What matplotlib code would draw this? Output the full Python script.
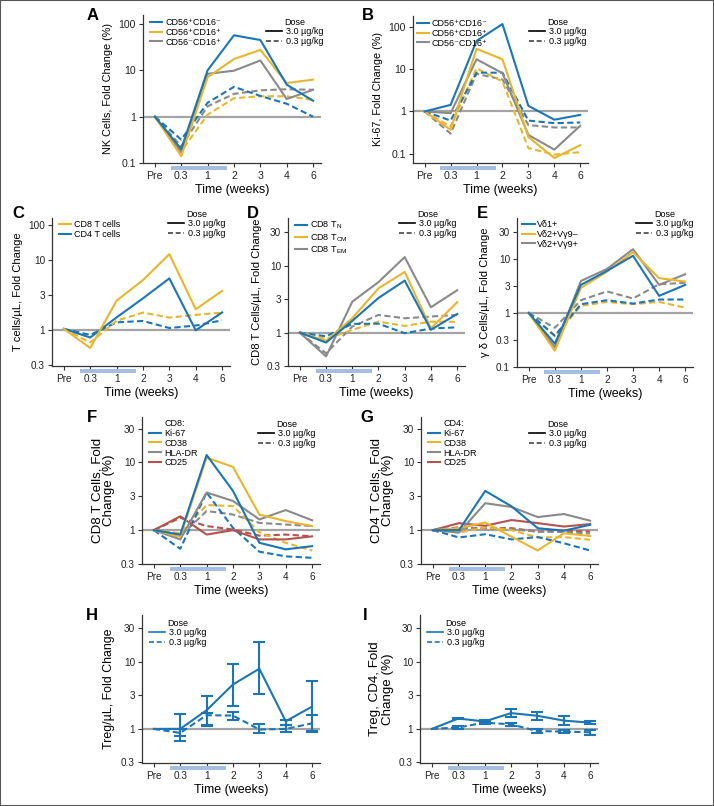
import numpy as np
import matplotlib
matplotlib.use('Agg')
import matplotlib.pyplot as plt
from matplotlib.lines import Line2D
from matplotlib.patches import Rectangle
from matplotlib.ticker import NullLocator
import matplotlib.transforms as mtransforms

plt.rcParams['font.family'] = ['Liberation Sans', 'DejaVu Sans']
plt.rcParams['mathtext.fontset'] = 'custom'
plt.rcParams['mathtext.rm'] = 'Liberation Sans'
plt.rcParams['mathtext.it'] = 'Liberation Sans:italic'
plt.rcParams['mathtext.bf'] = 'Liberation Sans:bold'

weeks = ['Pre', '0.3', '1', '2', '3', '4', '6']

# A: NK cells, fold change (%)
a_p16n_hi = [1, 0.2, 10, 57, 45, 4.9, 2.2]
a_p16p_hi = [1, 0.14, 7.1, 17.5, 27.6, 5.3, 6.3]
a_n16p_hi = [1, 0.17, 8.4, 9.8, 16.3, 2.4, 3.8]
a_p16n_lo = [1, 0.32, 2.0, 4.4, 2.8, 1.9, 1.0]
a_p16p_lo = [1, 0.18, 1.1, 2.5, 2.75, 2.75, 2.3]
a_n16p_lo = [1, 0.23, 1.67, 3.1, 3.7, 3.9, 3.8]

# B: Ki-67
b_p16n_hi = [1, 1.43, 46, 115, 1.36, 0.64, 0.83]
b_p16p_hi = [1, 0.37, 30, 17, 0.25, 0.08, 0.16]
b_n16p_hi = [1, 0.91, 17, 8, 0.28, 0.126, 0.46]
b_p16n_lo = [1, 0.61, 8.2, 8.2, 0.61, 0.53, 0.55]
b_p16p_lo = [1, 0.44, 10.4, 5.1, 0.137, 0.096, 0.11]
b_n16p_lo = [1, 0.3, 7.7, 5.7, 0.48, 0.42, 0.42]

# C: T cells
c_cd8_hi = [1.05, 0.56, 2.65, 5.2, 12.2, 2.0, 3.65]
c_cd4_hi = [1.05, 0.79, 1.53, 2.86, 5.5, 1.0, 1.8]
c_cd8_lo = [1.05, 0.67, 1.37, 1.79, 1.52, 1.66, 1.79]
c_cd4_lo = [1.05, 0.86, 1.3, 1.36, 1.08, 1.17, 1.39]

# D: CD8 subsets
d_tn_hi = [1, 0.71, 1.5, 3.3, 6.0, 1.1, 1.9]
d_tcm_hi = [1, 0.75, 1.64, 4.6, 8.1, 1.16, 2.85]
d_tem_hi = [1, 0.44, 2.9, 5.7, 13.5, 2.4, 4.3]
d_tn_lo = [1, 0.88, 1.35, 1.36, 0.98, 1.15, 1.2]
d_tcm_lo = [1, 0.8, 1.1, 1.46, 1.26, 1.46, 1.45]
d_tem_lo = [1, 0.49, 1.23, 1.84, 1.64, 1.74, 1.84]

# E: gamma delta
e_d1_hi = [1, 0.27, 3.3, 6.0, 11.4, 2.07, 3.3]
e_d2n_hi = [1, 0.2, 2.9, 5.8, 13.3, 4.4, 3.8]
e_d2p_hi = [1, 0.23, 3.9, 6.5, 15.1, 3.3, 5.2]
e_d1_lo = [1, 0.38, 1.45, 1.72, 1.49, 1.77, 1.77]
e_d2n_lo = [1, 0.37, 1.35, 1.6, 1.45, 1.6, 1.25]
e_d2p_lo = [1, 0.53, 1.72, 2.5, 1.85, 3.4, 3.6]

# F: CD8 markers
f_ki67_hi = [1, 0.86, 12.9, 3.8, 0.65, 0.52, 0.58]
f_cd38_hi = [1, 0.8, 11.8, 8.6, 1.7, 1.36, 1.15]
f_hla_hi = [1, 0.73, 3.6, 2.7, 1.44, 1.98, 1.4]
f_cd25_hi = [1, 1.6, 0.86, 1.0, 0.73, 0.73, 0.81]
f_ki67_lo = [1, 0.53, 3.6, 1.08, 0.48, 0.41, 0.39]
f_cd38_lo = [1, 0.9, 2.35, 2.27, 0.93, 0.65, 0.5]
f_hla_lo = [1, 0.81, 1.92, 1.7, 1.28, 1.21, 1.15]
f_cd25_lo = [1, 1.52, 1.15, 1.02, 0.83, 0.86, 0.81]

# G: CD4 markers
g_ki67_hi = [1, 1.0, 3.8, 2.25, 1.07, 0.98, 1.2]
g_cd38_hi = [1, 1.07, 1.3, 0.8, 0.5, 0.9, 0.82]
g_hla_hi = [1, 0.92, 2.5, 2.2, 1.56, 1.73, 1.38]
g_cd25_hi = [1, 1.27, 1.16, 1.41, 1.27, 1.13, 1.23]
g_ki67_lo = [1, 0.78, 0.87, 0.73, 0.79, 0.64, 0.5]
g_cd38_lo = [1, 0.92, 1.1, 1.0, 0.78, 0.79, 0.72]
g_hla_lo = [1, 1.07, 1.07, 1.03, 0.95, 0.94, 0.89]
g_cd25_lo = [1, 1.1, 1.07, 1.07, 0.95, 0.98, 0.95]

# H: Treg/uL with error bars
h_hi = [1, 1.0, 1.9, 4.6, 7.9, 1.3, 2.15]
h_hi_low = [1, 0.79, 1.12, 2.2, 3.3, 1.16, 0.93]
h_hi_up = [1, 1.67, 3.1, 9.2, 19.5, 1.38, 5.2]
h_lo = [1, 0.87, 1.6, 1.58, 0.98, 1.0, 1.21]
h_lo_low = [1, 0.65, 1.15, 1.36, 0.88, 0.89, 0.91]
h_lo_up = [1, 1.0, 1.72, 1.77, 1.19, 1.16, 1.62]

# I: Treg % of CD4
i_hi = [1, 1.43, 1.29, 1.72, 1.57, 1.33, 1.24]
i_hi_low = [1, 1.39, 1.22, 1.5, 1.36, 1.15, 1.19]
i_hi_up = [1, 1.47, 1.36, 2.0, 1.76, 1.57, 1.29]
i_lo = [1, 1.05, 1.24, 1.17, 0.93, 0.91, 0.89]
i_lo_low = [1, 1.01, 1.17, 1.12, 0.88, 0.86, 0.82]
i_lo_up = [1, 1.09, 1.31, 1.22, 0.98, 0.96, 0.97]

blue = '#1c75b5'
yellow = '#e8b52c'
gray = '#8a8a8a'
red = '#b5524e'
refgray = '#a3a3a3'
barblue = '#a3bde3'
dash = (0, (3, 1.6))
LW = 1.5

W, H = 714, 806
fig = plt.figure(figsize=(W / 100, H / 100), dpi=100)
x = np.arange(7)


def px_axes(l, r, t, b):
    return fig.add_axes([l / W, 1 - b / H, (r - l) / W, (b - t) / H])


half = [10 ** 1.5, 10, 10 ** 0.5, 1, 10 ** -0.5]


def setup(ax, ylim, yticks, ylabels, ylabel, letter, lpos, yfs=8.1, tfs=7.2):
    ax.set_yscale('log')
    ax.set_xlim(-0.45, 6.3)
    ax.set_ylim(*ylim)
    ax.set_yticks(yticks)
    ax.set_yticklabels(ylabels)
    ax.yaxis.set_minor_locator(NullLocator())
    ax.set_xticks(x)
    ax.set_xticklabels(weeks)
    ax.axhline(1, color=refgray, lw=1.6, zorder=1)
    for s in ['top', 'right']:
        ax.spines[s].set_visible(False)
    for s in ['left', 'bottom']:
        ax.spines[s].set_linewidth(0.9)
        ax.spines[s].set_color('#333333')
    ax.tick_params(axis='both', labelsize=tfs, length=3, width=0.8, pad=2, colors='#333333', labelcolor='#222222')
    ax.tick_params(axis='x', pad=3)
    trans = mtransforms.blended_transform_factory(ax.transData, ax.transAxes)
    hpx = ax.get_position().height * H
    ax.add_patch(Rectangle((0.6, -7 / hpx), 2.15, 4 / hpx, transform=trans,
                           color=barblue, clip_on=False, zorder=5, lw=0))
    ax.set_xlabel('Time (weeks)', fontsize=9, labelpad=2)
    ax.set_ylabel(ylabel, fontsize=yfs, labelpad=4, linespacing=1.05)
    fig.text(lpos[0] / W, 1 - lpos[1] / H, letter, fontsize=12, fontweight='bold',
             ha='center', va='center')


def series(ax, hi, lo, colors):
    for h, c in zip(hi[::-1], colors[::-1]):
        ax.plot(x, h, color=c, lw=LW, zorder=3)
    for l, c in zip(lo[::-1], colors[::-1]):
        ax.plot(x, l, color=c, lw=LW, ls=dash, zorder=2)


def legends(ax, labels, colors, title=None, ser_anchor=(0.03, 1.01), dose_anchor=(1.0, 1.0),
            dcol=('black', '#444444')):
    hs = [Line2D([], [], color=c, lw=LW) for c in colors]
    if title is not None:
        hs = [Line2D([], [], color='none')] + hs
        labels = [title] + list(labels)
    leg = ax.legend(hs, labels, loc='upper left', bbox_to_anchor=ser_anchor, frameon=False,
                    fontsize=6.5, handlelength=1.35, handletextpad=0.3, labelspacing=0.1,
                    borderaxespad=0, borderpad=0.2)
    ax.add_artist(leg)
    dose_legend(ax, 'upper right', dose_anchor, dcol)


def dose_legend(ax, loc, anchor, dcol):
    hs = [Line2D([], [], color=dcol[0], lw=1.2), Line2D([], [], color=dcol[1], lw=1.2, ls=dash)]
    ax.legend(hs, ['3.0 \u00b5g/kg', '0.3 \u00b5g/kg'], loc=loc, bbox_to_anchor=anchor,
              frameon=False, fontsize=6.5, handlelength=1.8, handletextpad=0.4,
              labelspacing=0.05, borderaxespad=0, borderpad=0.2, title='Dose',
              title_fontsize=6.5)


def dx(ax, px):
    return 1 + px / (ax.get_position().width * W)


def dy(ax, px):
    return 1 + px / (ax.get_position().height * H)


nk_labels = ['CD56\u207aCD16\u207b', 'CD56\u207aCD16\u207a', 'CD56\u207bCD16\u207a']
c3 = [blue, yellow, gray]
c4 = [blue, yellow, gray, red]

# A
ax = px_axes(143, 321, 15, 163)
setup(ax, (0.1, 156), [100, 10, 1, 0.1], ['100', '10', '1', '0.1'],
      'NK Cells, Fold Change (%)', 'A', (93, 15), yfs=7.8, tfs=7.6)
series(ax, [a_p16n_hi, a_p16p_hi, a_n16p_hi], [a_p16n_lo, a_p16p_lo, a_n16p_lo], c3)
legends(ax, nk_labels, c3, ser_anchor=(0.03, dy(ax, -1)), dose_anchor=(dx(ax, 4), dy(ax, -1)))

# B
ax = px_axes(413, 588, 16, 163)
setup(ax, (0.061, 178), [100, 10, 1, 0.1], ['100', '10', '1', '0.1'],
      'Ki-67, Fold Change (%)', 'B', (368, 16), yfs=7.8, tfs=7.6)
series(ax, [b_p16n_hi, b_p16p_hi, b_n16p_hi], [b_p16n_lo, b_p16p_lo, b_n16p_lo], c3)
legends(ax, nk_labels, c3, ser_anchor=(0.01, dy(ax, -1)), dose_anchor=(dx(ax, 0), dy(ax, 0)))

# C
ax = px_axes(52, 230, 218, 366)
setup(ax, (0.31, 40), half, ['100', '10', '3', '1', '0.3'],
      'T cells/\u00b5L, Fold Change', 'C', (18, 213))
series(ax, [c_cd8_hi, c_cd4_hi], [c_cd8_lo, c_cd4_lo], [yellow, blue])
legends(ax, ['CD8 T cells', 'CD4 T cells'], [yellow, blue], ser_anchor=(0.03, dy(ax, 0)),
        dose_anchor=(dx(ax, -3), dy(ax, 10)))

# D
ax = px_axes(288, 465, 218, 366)
setup(ax, (0.32, 52), half, ['30', '10', '3', '1', '0.3'],
      'CD8 T Cells/\u00b5L, Fold Change', 'D', (253, 213))
series(ax, [d_tn_hi, d_tcm_hi, d_tem_hi], [d_tn_lo, d_tcm_lo, d_tem_lo], c3)
legends(ax, ['CD8 T$_\\mathrm{N}$', 'CD8 T$_\\mathrm{CM}$', 'CD8 T$_\\mathrm{EM}$'], c3,
        ser_anchor=(0.03, dy(ax, 0)), dose_anchor=(dx(ax, -7), dy(ax, 10)))

# E
ax = px_axes(517, 693, 218, 367)
setup(ax, (0.1, 57), half + [0.1], ['30', '10', '3', '1', '0.3', '0.1'],
      '\u03b3 \u03b4 Cells/\u00b5L, Fold Change', 'E', (482, 213))
series(ax, [e_d1_hi, e_d2n_hi, e_d2p_hi], [e_d1_lo, e_d2n_lo, e_d2p_lo], c3)
legends(ax, ['V\u03b41+', 'V\u03b42+V\u03b39\u2013', 'V\u03b42+V\u03b39+'], c3,
        ser_anchor=(0.02, dy(ax, 0)), dose_anchor=(dx(ax, 2), dy(ax, 10)))

# F
ax = px_axes(142, 320, 417, 564)
setup(ax, (0.316, 47), half, ['30', '10', '3', '1', '0.3'],
      'CD8 T Cells, Fold\nChange (%)', 'F', (92, 417), yfs=9.6)
series(ax, [f_ki67_hi, f_cd38_hi, f_hla_hi, f_cd25_hi],
       [f_ki67_lo, f_cd38_lo, f_hla_lo, f_cd25_lo], c4)
legends(ax, ['Ki-67', 'CD38', 'HLA-DR', 'CD25'], c4, title='CD8:',
        ser_anchor=(0.03, dy(ax, 0)), dose_anchor=(dx(ax, -3), dy(ax, -1)))

# G
ax = px_axes(421, 598, 417, 564)
setup(ax, (0.316, 47), half, ['30', '10', '3', '1', '0.3'],
      'CD4 T Cells, Fold\nChange (%)', 'G', (367, 417), yfs=9.6)
series(ax, [g_ki67_hi, g_cd38_hi, g_hla_hi, g_cd25_hi],
       [g_ki67_lo, g_cd38_lo, g_hla_lo, g_cd25_lo], c4)
legends(ax, ['Ki-67', 'CD38', 'HLA-DR', 'CD25'], c4, title='CD4:',
        ser_anchor=(0.03, dy(ax, 0)), dose_anchor=(dx(ax, -10), dy(ax, -1)))


def err_panel(ax, hi, hlow, hup, lo, llow, lup):
    for v, lw_, up, ls in [(lo, llow, lup, dash), (hi, hlow, hup, '-')]:
        v = np.array(v); lw_ = np.array(lw_); up = np.array(up)
        ax.plot(x, v, color=blue, lw=LW, ls=ls, zorder=3)
        ax.errorbar(x[1:], v[1:], yerr=[v[1:] - lw_[1:], up[1:] - v[1:]], fmt='none',
                    ecolor=blue, elinewidth=1.5, capsize=4, capthick=1.5, zorder=3)


# H
ax = px_axes(142, 320, 615, 763)
setup(ax, (0.31, 50), half, ['30', '10', '3', '1', '0.3'],
      'Treg/\u00b5L, Fold Change', 'H', (92, 615), yfs=8.9)
err_panel(ax, h_hi, h_hi_low, h_hi_up, h_lo, h_lo_low, h_lo_up)
dose_legend(ax, 'upper left', (0.03, dy(ax, -2)), (blue, blue))

# I
ax = px_axes(420, 598, 615, 763)
setup(ax, (0.31, 50), half, ['30', '10', '3', '1', '0.3'],
      'Treg, CD4, Fold\nChange (%)', 'I', (365, 615), yfs=9.6)
err_panel(ax, i_hi, i_hi_low, i_hi_up, i_lo, i_lo_low, i_lo_up)
dose_legend(ax, 'upper left', (0.03, dy(ax, -2)), (blue, blue))

fig.patches.append(Rectangle((0, 0), 1, 1, transform=fig.transFigure, fill=False,
                             edgecolor='#555555', lw=1.5))

fig.savefig('out.png', dpi=100)
